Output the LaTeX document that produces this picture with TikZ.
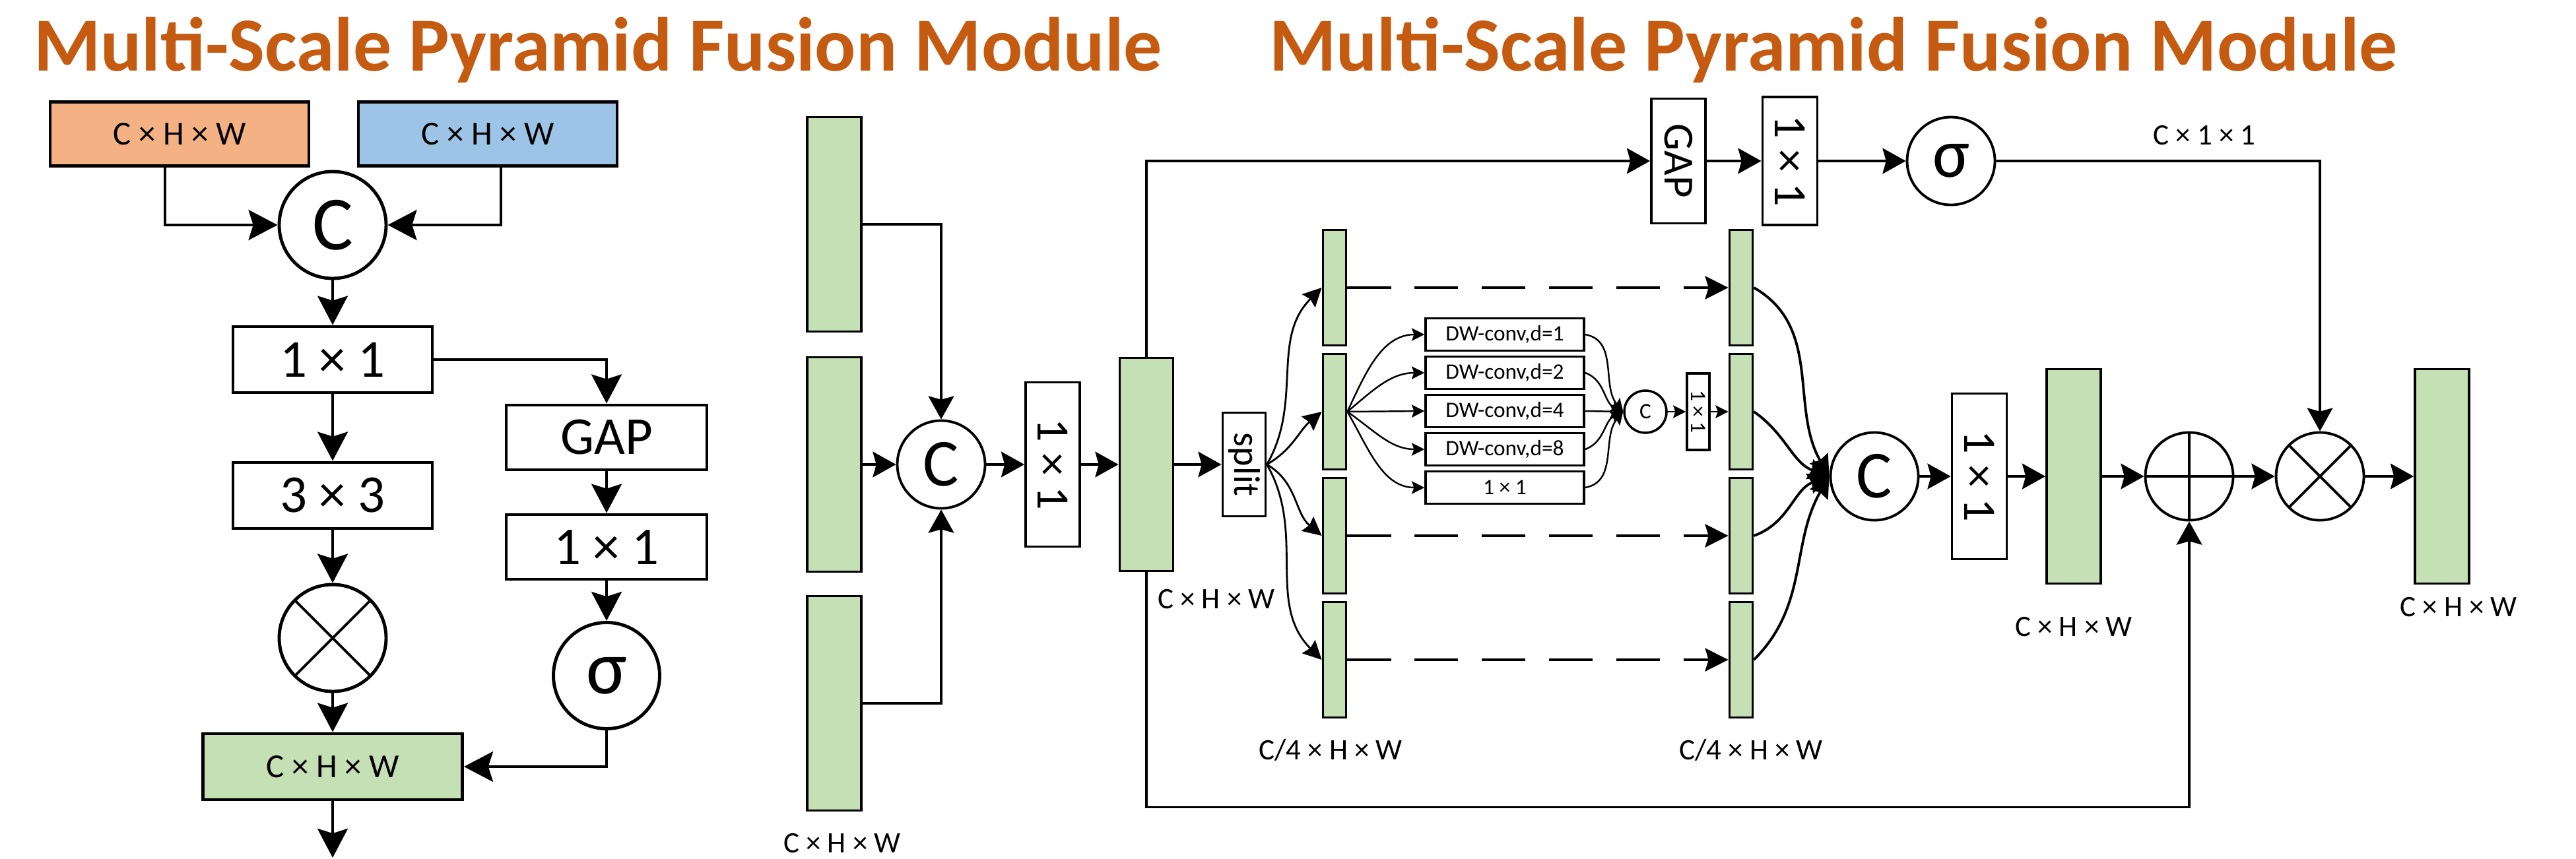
\documentclass[tikz,border=0pt]{standalone}
\usepackage{fontspec}
\setmainfont{Carlito}
\usepackage{tikz}
\usetikzlibrary{arrows.meta, positioning, calc}
\definecolor{titleorange}{HTML}{C55A11}
\definecolor{inorange}{HTML}{F4B183}
\definecolor{inblue}{HTML}{9DC3E6}
\definecolor{featgreen}{HTML}{C5E0B4}
\newcommand{\setfs}[1]{\fontsize{#1}{#1}\selectfont}

\tikzset{
  title/.style={font=\setfs{33}\bfseries, text=titleorange, inner sep=0pt, anchor=base},
  box/.style={draw, line width=1.4pt, inner sep=0pt, align=center},
  opcirc/.style={draw, circle, line width=1.4pt, inner sep=0pt},
  feat/.style={draw, fill=featgreen, line width=1.1pt, inner sep=0pt},
  lbl/.style={font=\setfs{12.8}, inner sep=0pt},
  mulop/.style={opcirc, path picture={
    \draw[line width=1.1pt] (path picture bounding box.north west) -- (path picture bounding box.south east)
      (path picture bounding box.north east) -- (path picture bounding box.south west);}},
  addop/.style={opcirc, path picture={
    \draw[line width=1.1pt] (path picture bounding box.north) -- (path picture bounding box.south)
      (path picture bounding box.east) -- (path picture bounding box.west);}},
  arrL/.style={line width=1.4pt, -{Stealth[length=12.5pt,width=13pt,inset=2pt]}},
  arrR/.style={line width=1.1pt, -{Stealth[length=10pt,width=11pt,inset=1.5pt]}},
  arrS/.style={line width=0.8pt, -{Stealth[length=8pt,width=8pt,inset=1pt]}},
  arrD/.style={line width=1.1pt, dash pattern=on 18.8pt off 10.2pt, -{Stealth[length=10pt,width=10pt,inset=1.5pt]}},
  arrT/.style={line width=0.7pt, -{Stealth[length=5.5pt,width=5.5pt,inset=1pt]}},
  arrM/.style={line width=1.1pt, -{Stealth[length=9pt,width=9pt,inset=1pt]}}
}

\begin{document}
\begin{tikzpicture}
  \useasboundingbox (0,0) rectangle (39.03,-13.01);

  % Titles
  \node[title] (titleL) at (9.06,-1.07) {Multi-Scale Pyramid Fusion Module};
  \node[title] (titleR) at (27.78,-1.07) {Multi-Scale Pyramid Fusion Module};

  % Left module
  \node[box, fill=inorange, minimum width=3.92cm, minimum height=0.97cm, font=\setfs{14.5}] (inA) at (2.72,-2.03) {C × H × W};
  \node[box, fill=inblue, minimum width=3.92cm, minimum height=0.97cm, font=\setfs{14.5}] (inB) at (7.39,-2.03) {C × H × W};
  \node[opcirc, minimum size=1.62cm, font=\setfs{33}] (catL) at (5.04,-3.41) {C};
  \node[box, minimum width=3.02cm, minimum height=1cm, font=\setfs{23}] (convA) at (5.04,-5.45) {1 × 1};
  \node[box, minimum width=3.02cm, minimum height=1cm, font=\setfs{23}] (convB) at (5.04,-7.51) {3 × 3};
  \node[mulop, minimum size=1.62cm] (mulL) at (5.04,-9.67) {};
  \node[box, minimum width=3.04cm, minimum height=0.98cm, font=\setfs{23}] (gapL) at (9.19,-6.63) {GAP};
  \node[box, minimum width=3.04cm, minimum height=0.98cm, font=\setfs{23}] (fcL) at (9.19,-8.29) {1 × 1};
  \node[opcirc, minimum size=1.61cm, font=\setfs{33}] (sigL) at (9.19,-10.24) {σ};
  \node[feat, line width=1.4pt, minimum width=3.93cm, minimum height=1cm, font=\setfs{14.5}] (outL) at (5.04,-11.62) {C × H × W};
  \coordinate (outEnd) at (5.04,-13.0);

  \draw[arrL] ([xshift=-0.22cm]inA.south) |- (catL.west);
  \draw[arrL] ([xshift=0.20cm]inB.south) |- (catL.east);
  \draw[arrL] (catL) -- (convA);
  \draw[arrL] (convA) -- (convB);
  \draw[arrL] (convB) -- (mulL);
  \draw[arrL] (mulL) -- (outL);
  \draw[arrL] (convA.east) -| (gapL.north);
  \draw[arrL] (gapL) -- (fcL);
  \draw[arrL] (fcL) -- (sigL);
  \draw[arrL] (sigL.south) |- (outL.east);
  \draw[arrL] (outL) -- (outEnd);

  % Right module: inputs
  \node[feat, minimum width=0.82cm, minimum height=3.25cm] (inC) at (12.64,-3.40) {};
  \node[feat, minimum width=0.82cm, minimum height=3.25cm] (inD) at (12.64,-7.04) {};
  \node[feat, minimum width=0.82cm, minimum height=3.25cm] (inE) at (12.64,-10.66) {};
  \node[lbl] (inLbl) at (12.76,-12.78) {C × H × W};
  \node[opcirc, line width=1.1pt, minimum size=1.33cm, font=\setfs{29}] (catM) at (14.26,-7.04) {C};
  \node[box, line width=1.1pt, minimum width=0.82cm, minimum height=2.49cm, font=\setfs{20}] (fcM) at (15.95,-7.04) {\rotatebox{-90}{1 × 1}};
  \node[feat, minimum width=0.81cm, minimum height=3.23cm] (mid) at (17.37,-7.04) {};
  \node[lbl] (midLbl) at (18.43,-9.08) {C × H × W};
  \node[box, line width=1.1pt, minimum width=0.65cm, minimum height=1.57cm, font=\setfs{16}] (split) at (18.85,-7.04) {\rotatebox{-90}{split}};

  % split branches
  \node[feat, minimum width=0.35cm, minimum height=1.75cm] (p1) at (20.22,-4.36) {};
  \node[feat, minimum width=0.35cm, minimum height=1.75cm] (p2) at (20.22,-6.24) {};
  \node[feat, minimum width=0.35cm, minimum height=1.75cm] (p3) at (20.22,-8.12) {};
  \node[feat, minimum width=0.35cm, minimum height=1.75cm] (p4) at (20.22,-10.00) {};
  \node[lbl] (pLbl) at (20.16,-11.37) {C/4 × H × W};
  \node[feat, minimum width=0.35cm, minimum height=1.75cm] (q1) at (26.38,-4.36) {};
  \node[feat, minimum width=0.35cm, minimum height=1.75cm] (q2) at (26.38,-6.24) {};
  \node[feat, minimum width=0.35cm, minimum height=1.75cm] (q3) at (26.38,-8.12) {};
  \node[feat, minimum width=0.35cm, minimum height=1.75cm] (q4) at (26.38,-10.00) {};
  \node[lbl] (qLbl) at (26.53,-11.37) {C/4 × H × W};

  % dilated convs
  \node[box, line width=1pt, minimum width=2.40cm, minimum height=0.49cm, font=\setfs{9.5}] (dw1) at (22.80,-5.07) {DW-conv,d=1};
  \node[box, line width=1pt, minimum width=2.40cm, minimum height=0.49cm, font=\setfs{9.5}] (dw2) at (22.80,-5.65) {DW-conv,d=2};
  \node[box, line width=1pt, minimum width=2.40cm, minimum height=0.49cm, font=\setfs{9.5}] (dw3) at (22.80,-6.23) {DW-conv,d=4};
  \node[box, line width=1pt, minimum width=2.40cm, minimum height=0.49cm, font=\setfs{9.5}] (dw4) at (22.80,-6.81) {DW-conv,d=8};
  \node[box, line width=1pt, minimum width=2.40cm, minimum height=0.49cm, font=\setfs{9.5}] (dw5) at (22.80,-7.39) {1 × 1};
  \node[opcirc, line width=1pt, minimum size=0.64cm, font=\setfs{9.5}] (catS) at (24.93,-6.24) {C};
  \node[box, line width=1pt, minimum width=0.34cm, minimum height=1.16cm, font=\setfs{9.5}] (fcS) at (25.73,-6.24) {\rotatebox{-90}{1 × 1}};

  % fusion
  \node[opcirc, line width=1.1pt, minimum size=1.33cm, font=\setfs{29}] (catR) at (28.40,-7.22) {C};
  \node[box, line width=1.1pt, minimum width=0.83cm, minimum height=2.51cm, font=\setfs{20}] (fcR) at (29.99,-7.22) {\rotatebox{-90}{1 × 1}};
  \node[feat, minimum width=0.82cm, minimum height=3.25cm] (fuse) at (31.42,-7.22) {};
  \node[lbl] (fuseLbl) at (31.42,-9.50) {C × H × W};
  \node[addop, line width=1.1pt, minimum size=1.33cm] (add) at (33.17,-7.22) {};
  \node[mulop, line width=1.1pt, minimum size=1.33cm] (mulR) at (35.15,-7.22) {};
  \node[feat, minimum width=0.82cm, minimum height=3.25cm] (final) at (37.00,-7.22) {};
  \node[lbl] (finalLbl) at (37.25,-9.20) {C × H × W};

  % attention branch
  \node[box, line width=1.1pt, minimum width=0.82cm, minimum height=1.89cm, font=\setfs{18.5}] (gapR) at (25.43,-2.44) {\rotatebox{-90}{GAP}};
  \node[box, line width=1.1pt, minimum width=0.83cm, minimum height=1.94cm, font=\setfs{20}] (fcT) at (27.12,-2.44) {\rotatebox{-90}{1 × 1}};
  \node[opcirc, line width=1.1pt, minimum size=1.33cm, font=\setfs{30}] (sigR) at (29.56,-2.44) {σ};
  \node[lbl] (sigLbl) at (33.40,-2.05) {C × 1 × 1};

  \draw[arrR] (inC.east) -| (catM.north);
  \draw[arrR] (inD) -- (catM);
  \draw[arrR] (inE.east) -| (catM.south);
  \draw[arrR] (catM) -- (fcM);
  \draw[arrR] (fcM) -- (mid);
  \draw[arrR] (mid) -- (split);
  \draw[arrR] (mid.north) |- (gapR.west);
  \draw[arrR] (gapR) -- (fcT);
  \draw[arrR] (fcT) -- (sigR);
  \draw[arrR] (sigR.east) -| (mulR.north);
  \draw[arrR] (mid.south) -- ++(0,-3.56) -| (add.south);

  \draw[arrS] (split.east) to[out=60,in=-135] (p1.west);
  \draw[arrS] (split.east) to[out=30,in=-140] (p2.west);
  \draw[arrS] (split.east) to[out=-30,in=140] (p3.west);
  \draw[arrS] (split.east) to[out=-60,in=135] (p4.west);

  \draw[arrD] (p1) -- (q1);
  \draw[arrD] (p3) -- (q3);
  \draw[arrD] (p4) -- (q4);

  \draw[arrT] (p2.east) to[out=65,in=180] (dw1.west);
  \draw[arrT] (p2.east) to[out=40,in=180] (dw2.west);
  \draw[arrT] (p2.east) -- (dw3.west);
  \draw[arrT] (p2.east) to[out=-35,in=180] (dw4.west);
  \draw[arrT] (p2.east) to[out=-60,in=180] (dw5.west);
  \draw[arrT] (dw1.east) to[out=-10,in=130] (catS.west);
  \draw[arrT] (dw2.east) to[out=-20,in=155] (catS.west);
  \draw[arrT] (dw3.east) -- (catS.west);
  \draw[arrT] (dw4.east) to[out=20,in=205] (catS.west);
  \draw[arrT] (dw5.east) to[out=10,in=230] (catS.west);
  \draw[arrT] (catS) -- (fcS);
  \draw[arrT] (fcS) -- (q2);

  \draw[arrM] (q1.east) to[out=-30,in=120] (catR.west);
  \draw[arrM] (q2.east) to[out=-35,in=160] (catR.west);
  \draw[arrM] (q3.east) to[out=20,in=200] (catR.west);
  \draw[arrM] (q4.east) to[out=45,in=240] (catR.west);

  \draw[arrR] (catR) -- (fcR);
  \draw[arrR] (fcR) -- (fuse);
  \draw[arrR] (fuse) -- (add);
  \draw[arrR] (add) -- (mulR);
  \draw[arrR] (mulR) -- (final);
\end{tikzpicture}
\end{document}
